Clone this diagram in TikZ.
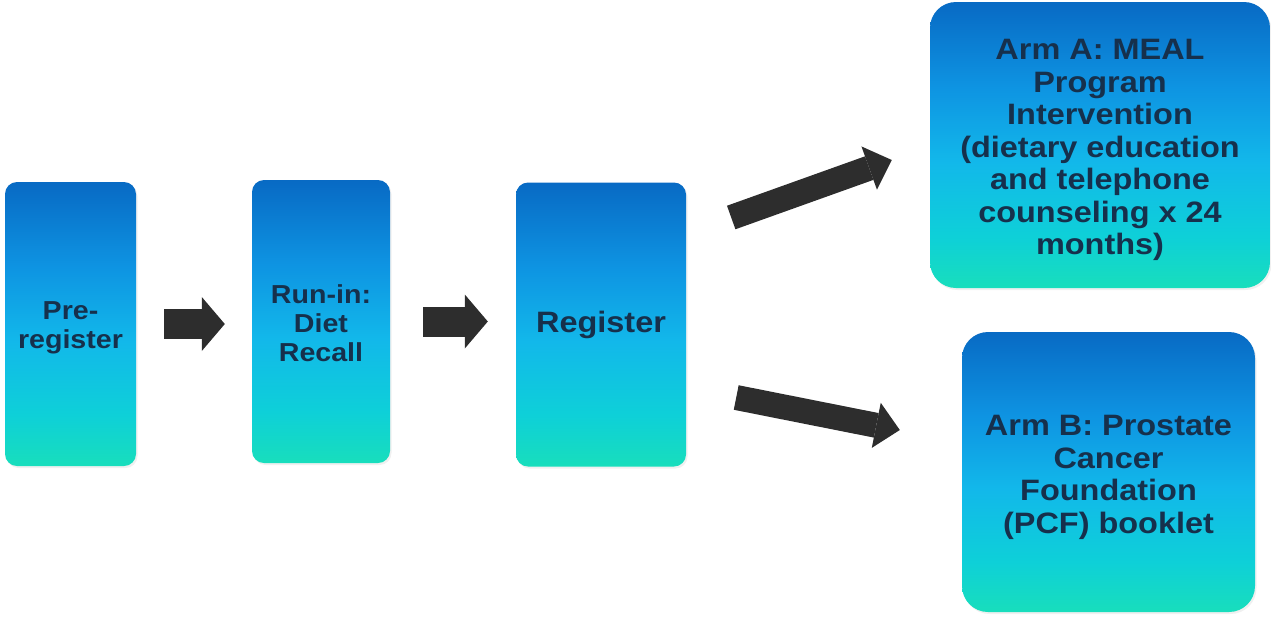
\documentclass[tikz,border=0pt]{standalone}
\usepackage{fontspec}
\setmainfont{Liberation Sans}[FakeStretch=1.1]
\usetikzlibrary{arrows.meta,shadows}
\definecolor{txt}{RGB}{22,48,76}
\definecolor{arrowc}{RGB}{45,45,45}
\definecolor{g1}{RGB}{24,222,188}
\definecolor{g2}{RGB}{14,208,216}
\definecolor{g3}{RGB}{18,184,234}
\definecolor{g4}{RGB}{14,148,226}
\definecolor{g5}{RGB}{8,106,196}
\pgfdeclareverticalshading{boxshade}{100bp}{color(0bp)=(g1); color(25bp)=(g1); color(34bp)=(g2); color(47bp)=(g3); color(60bp)=(g4); color(75bp)=(g5); color(100bp)=(g5)}
\newcommand{\boxtext}[2]{\raisebox{#1}[\height][\depth]{\begin{tabular}{@{}c@{}}#2\end{tabular}}}
\tikzset{
  box/.style={rounded corners=12pt, shading=boxshade, draw=none, text=txt,
    inner sep=0pt, font=\bfseries\fontsize{26}{29}\selectfont,
    drop shadow={opacity=0.12, shadow xshift=1.5pt, shadow yshift=-2pt}},
  armbox/.style={box, rounded corners=26pt, font=\bfseries\fontsize{29.5}{32.5}\selectfont},
  flow/.style={draw=arrowc, line width=30pt, -{Triangle[length=23pt,width=54pt,line width=0pt]}},
  diag/.style={draw=arrowc, line width=25pt, -{Triangle[length=24pt,width=46pt,line width=0pt]}}
}
\begin{document}
\begin{tikzpicture}[x=1pt,y=-1pt]
\useasboundingbox (0,0) rectangle (1271,619);
\node[box, minimum width=131pt, minimum height=284pt] (b1) at (70.5,324) {\boxtext{-4.5pt}{Pre-\\register}};
\node[box, minimum width=138pt, minimum height=283pt] (b2) at (321,321.5) {\boxtext{-5pt}{Run-in:\\Diet\\Recall}};
\node[box, minimum width=170pt, minimum height=284pt, font=\bfseries\fontsize{29.5}{33}\selectfont] (b3) at (601,324.5) {Register};
\node[armbox, minimum width=340pt, minimum height=286pt] (bA) at (1100,145) {\boxtext{-5.5pt}{Arm A: MEAL\\Program\\Intervention\\(dietary education\\and telephone\\counseling x 24\\months)}};
\node[armbox, minimum width=293pt, minimum height=280pt] (bB) at (1108.5,472) {\boxtext{-6pt}{Arm B: Prostate\\Cancer\\Foundation\\(PCF) booklet}};
\draw[flow, shorten <=28pt, shorten >=27pt] (b1.east) -- (b2.west |- b1.east);
\draw[flow, shorten <=33pt, shorten >=28pt] (b2.east) -- (b3.west |- b2.east);
\draw[diag] ([shift={(45,-107)}]b3.east) -- ([shift={(-38,15)}]bA.west);
\draw[diag] ([shift={(50,73)}]b3.east) -- ([shift={(-62,-42)}]bB.west);
\end{tikzpicture}
\end{document}
